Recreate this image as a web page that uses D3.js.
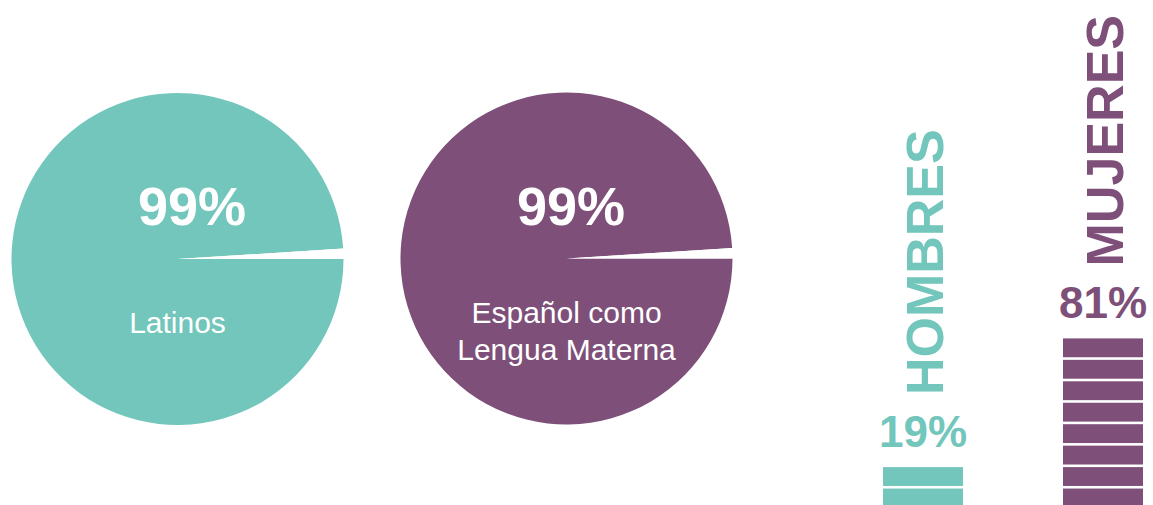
<!DOCTYPE html>
<html>
<head>
<meta charset="utf-8">
<script src="https://cdn.jsdelivr.net/npm/d3@7"></script>
<style>
  html, body { margin: 0; padding: 0; background: #ffffff; }
  svg { display: block; }
  text { font-family: "Liberation Sans", Arial, Helvetica, sans-serif; }
</style>
</head>
<body>
<svg id="chart" width="1153" height="505"></svg>
<script>
// ---- data ----
const pieLabels = ["99%", "99%"];
const pieCaptions = [["Latinos"], ["Español como", "Lengua Materna"]];
const pieValues = [99, 99];            // share shown in colour
const barCategories = ["HOMBRES", "MUJERES"];
const barValues = [19, 81];            // percent
const barLabels = ["19%", "81%"];
const colors = ["#72c6bb", "#7d4f79"];

// ---- layout ----
const svg = d3.select("#chart");
const W = 1153, H = 505;

// Pies
const pieCenters = [[177.5, 259], [566.5, 258.5]];
const textDx = [14.5, 4.5];
const radius = 166;
const pie = d3.pie().sort(null).startAngle(Math.PI / 2).endAngle(Math.PI / 2 + 2 * Math.PI);
const arc = d3.arc().innerRadius(0).outerRadius(radius);

pieValues.forEach((v, i) => {
  const g = svg.append("g").attr("transform", `translate(${pieCenters[i][0]},${pieCenters[i][1]})`);
  const arcs = pie([v, 100 - v]);
  g.selectAll("path").data(arcs).join("path")
    .attr("d", arc)
    .attr("fill", (d, j) => j === 0 ? colors[i] : "#ffffff");
  g.append("text")
    .attr("x", textDx[i]).attr("y", -34)
    .attr("text-anchor", "middle")
    .attr("font-size", 54).attr("font-weight", "bold")
    .attr("fill", "#ffffff")
    .text(pieLabels[i]);
  const caps = pieCaptions[i];
  const baseY = caps.length === 1 ? 74 : 64.5;
  caps.forEach((c, k) => {
    g.append("text")
      .attr("x", 0).attr("y", baseY + k * 37)
      .attr("text-anchor", "middle")
      .attr("font-size", 30)
      .attr("fill", "#ffffff")
      .text(c);
  });
});

// Segmented bars (one segment = 10%)
const barX = d3.scaleOrdinal().domain(barCategories).range([883, 1063]);
const barW = 80;
const pitch = 21.45, gap = 2.6, bottom = 510;
const y = d3.scaleLinear().domain([0, 10]).range([bottom, bottom - 10 * pitch]);

barCategories.forEach((cat, i) => {
  const n = Math.round(barValues[i] / 10);
  const x0 = barX(cat);
  const g = svg.append("g");
  g.selectAll("rect").data(d3.range(n)).join("rect")
    .attr("x", x0)
    .attr("width", barW)
    .attr("y", k => y(k + 1))
    .attr("height", k => y(k) - y(k + 1) - gap)
    .attr("fill", colors[i]);
  const top = y(n);
  const cx = x0 + barW / 2;
  g.append("text")
    .attr("x", cx).attr("y", top - 20)
    .attr("text-anchor", "middle")
    .attr("font-size", 44).attr("font-weight", "bold")
    .attr("fill", colors[i])
    .text(barLabels[i]);
  // vertical category name
  const startY = top - 72;
  g.append("text")
    .attr("transform", `translate(${cx + 19.5},${startY}) rotate(-90)`)
    .attr("text-anchor", "start")
    .attr("font-size", 52).attr("font-weight", "bold")
    .attr("fill", colors[i])
    .text(cat);
});
</script>
</body>
</html>
